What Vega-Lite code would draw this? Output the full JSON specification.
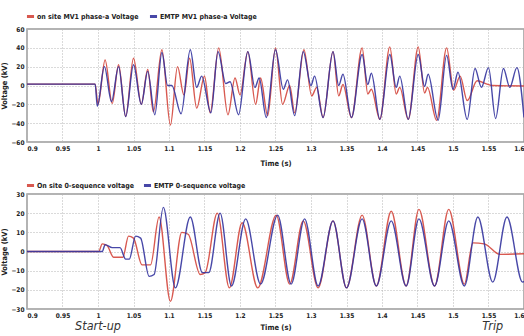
{
  "$schema": "https://vega.github.io/schema/vega-lite/v6.json",
  "background": "white",
  "padding": {"left": 0, "top": 10, "right": 0, "bottom": 0},
  "spacing": 52,
  "bounds": "flush",
  "config": {
    "view": {"stroke": "#9a9a9a", "strokeWidth": 1.5},
    "axis": {
      "labelFont": "DejaVu Sans Condensed, Liberation Sans",
      "labelFontWeight": "bold",
      "labelFontSize": 6.5,
      "labelColor": "#222",
      "titleFont": "DejaVu Sans Condensed, Liberation Sans",
      "titleFontWeight": "bold",
      "titleFontSize": 7.5,
      "titleColor": "#222",
      "ticks": false,
      "domain": false,
      "gridColor": "#b5b5b5",
      "gridDash": [1, 2],
      "gridWidth": 1
    },
    "legend": {
      "orient": "none",
      "direction": "horizontal",
      "gridAlign": "none",
      "title": null,
      "symbolType": "stroke",
      "symbolStrokeWidth": 3,
      "symbolSize": 50,
      "labelFont": "DejaVu Sans Condensed, Liberation Sans",
      "labelFontWeight": "bold",
      "labelFontSize": 7,
      "labelColor": "#222",
      "columnPadding": 2,
      "labelOffset": 1,
      "labelLimit": 200
    }
  },
  "datasets": {
    "top": [
      {"s":"r","t":0.9,"v":1.5},{"s":"r","t":0.996,"v":1.5},{"s":"r","t":1.0,"v":-20},{"s":"r","t":1.01,"v":27},{"s":"r","t":1.02,"v":-19},{"s":"r","t":1.029,"v":22},{"s":"r","t":1.039,"v":-33},{"s":"r","t":1.05,"v":29},{"s":"r","t":1.061,"v":-20},{"s":"r","t":1.07,"v":17},{"s":"r","t":1.078,"v":-28},{"s":"r","t":1.09,"v":38},{"s":"r","t":1.102,"v":-42},{"s":"r","t":1.112,"v":20},{"s":"r","t":1.121,"v":-10},{"s":"r","t":1.129,"v":29},{"s":"r","t":1.139,"v":-24},{"s":"r","t":1.15,"v":10},{"s":"r","t":1.158,"v":-29},{"s":"r","t":1.17,"v":40},{"s":"r","t":1.183,"v":-31},{"s":"r","t":1.193,"v":8},{"s":"r","t":1.2,"v":-10},{"s":"r","t":1.211,"v":36},{"s":"r","t":1.222,"v":-20},{"s":"r","t":1.229,"v":8},{"s":"r","t":1.239,"v":-32},{"s":"r","t":1.25,"v":40},{"s":"r","t":1.26,"v":-20},{"s":"r","t":1.27,"v":0},{"s":"r","t":1.277,"v":-29},{"s":"r","t":1.29,"v":38},{"s":"r","t":1.301,"v":-11},{"s":"r","t":1.308,"v":-2},{"s":"r","t":1.317,"v":-34},{"s":"r","t":1.331,"v":36},{"s":"r","t":1.339,"v":-11},{"s":"r","t":1.345,"v":1},{"s":"r","t":1.357,"v":-34},{"s":"r","t":1.372,"v":40},{"s":"r","t":1.38,"v":-9},{"s":"r","t":1.385,"v":-4},{"s":"r","t":1.397,"v":-36},{"s":"r","t":1.411,"v":41},{"s":"r","t":1.42,"v":-9},{"s":"r","t":1.425,"v":-2},{"s":"r","t":1.437,"v":-36},{"s":"r","t":1.451,"v":41},{"s":"r","t":1.46,"v":-8},{"s":"r","t":1.464,"v":-2},{"s":"r","t":1.477,"v":-37},{"s":"r","t":1.491,"v":40},{"s":"r","t":1.501,"v":-5},{"s":"r","t":1.51,"v":10},{"s":"r","t":1.52,"v":-16},{"s":"r","t":1.534,"v":5},{"s":"r","t":1.548,"v":1.5},{"s":"r","t":1.556,"v":0},{"s":"r","t":1.6,"v":-0.5},
      {"s":"b","t":0.9,"v":1.5},{"s":"b","t":0.996,"v":1.5},{"s":"b","t":0.999,"v":-22},{"s":"b","t":1.009,"v":20},{"s":"b","t":1.019,"v":-17},{"s":"b","t":1.029,"v":20},{"s":"b","t":1.039,"v":-33},{"s":"b","t":1.05,"v":22},{"s":"b","t":1.061,"v":-20},{"s":"b","t":1.07,"v":15},{"s":"b","t":1.08,"v":-31},{"s":"b","t":1.09,"v":35},{"s":"b","t":1.098,"v":0},{"s":"b","t":1.104,"v":0},{"s":"b","t":1.117,"v":-30},{"s":"b","t":1.13,"v":38},{"s":"b","t":1.139,"v":-2},{"s":"b","t":1.146,"v":10},{"s":"b","t":1.159,"v":-29},{"s":"b","t":1.169,"v":36},{"s":"b","t":1.18,"v":2},{"s":"b","t":1.186,"v":4},{"s":"b","t":1.198,"v":-31},{"s":"b","t":1.211,"v":36},{"s":"b","t":1.221,"v":-2},{"s":"b","t":1.227,"v":8},{"s":"b","t":1.237,"v":-34},{"s":"b","t":1.25,"v":38},{"s":"b","t":1.261,"v":-4},{"s":"b","t":1.267,"v":6},{"s":"b","t":1.277,"v":-32},{"s":"b","t":1.289,"v":36},{"s":"b","t":1.3,"v":0},{"s":"b","t":1.305,"v":10},{"s":"b","t":1.317,"v":-34},{"s":"b","t":1.331,"v":36},{"s":"b","t":1.339,"v":0},{"s":"b","t":1.345,"v":12},{"s":"b","t":1.357,"v":-34},{"s":"b","t":1.372,"v":33},{"s":"b","t":1.38,"v":1},{"s":"b","t":1.385,"v":13},{"s":"b","t":1.397,"v":-36},{"s":"b","t":1.411,"v":33},{"s":"b","t":1.42,"v":-2},{"s":"b","t":1.425,"v":10},{"s":"b","t":1.437,"v":-36},{"s":"b","t":1.451,"v":33},{"s":"b","t":1.46,"v":-1},{"s":"b","t":1.465,"v":12},{"s":"b","t":1.479,"v":-37},{"s":"b","t":1.491,"v":32},{"s":"b","t":1.5,"v":-4},{"s":"b","t":1.507,"v":14},{"s":"b","t":1.52,"v":-36},{"s":"b","t":1.531,"v":18},{"s":"b","t":1.54,"v":-2},{"s":"b","t":1.55,"v":19},{"s":"b","t":1.56,"v":-35},{"s":"b","t":1.571,"v":18},{"s":"b","t":1.58,"v":-2},{"s":"b","t":1.59,"v":19},{"s":"b","t":1.6,"v":-34}
    ],
    "bot": [
      {"s":"r","t":0.9,"v":0},{"s":"r","t":1.001,"v":0},{"s":"r","t":1.006,"v":4},{"s":"r","t":1.013,"v":3},{"s":"r","t":1.022,"v":-3},{"s":"r","t":1.035,"v":-3},{"s":"r","t":1.043,"v":8},{"s":"r","t":1.05,"v":7},{"s":"r","t":1.062,"v":-7},{"s":"r","t":1.074,"v":-7},{"s":"r","t":1.086,"v":18},{"s":"r","t":1.102,"v":-26},{"s":"r","t":1.118,"v":10},{"s":"r","t":1.127,"v":9},{"s":"r","t":1.144,"v":-12},{"s":"r","t":1.151,"v":-11},{"s":"r","t":1.168,"v":20},{"s":"r","t":1.185,"v":-19},{"s":"r","t":1.203,"v":15},{"s":"r","t":1.225,"v":-19},{"s":"r","t":1.251,"v":19},{"s":"r","t":1.27,"v":-17},{"s":"r","t":1.289,"v":16},{"s":"r","t":1.31,"v":-19},{"s":"r","t":1.331,"v":16},{"s":"r","t":1.35,"v":-19},{"s":"r","t":1.372,"v":19},{"s":"r","t":1.392,"v":-18},{"s":"r","t":1.413,"v":21},{"s":"r","t":1.434,"v":-18},{"s":"r","t":1.452,"v":22},{"s":"r","t":1.474,"v":-18},{"s":"r","t":1.494,"v":22},{"s":"r","t":1.516,"v":-17},{"s":"r","t":1.528,"v":4.5},{"s":"r","t":1.544,"v":4},{"s":"r","t":1.566,"v":-1.5},{"s":"r","t":1.6,"v":-1.2},
      {"s":"b","t":0.9,"v":0},{"s":"b","t":1.006,"v":0},{"s":"b","t":1.01,"v":3.6},{"s":"b","t":1.02,"v":2},{"s":"b","t":1.031,"v":2},{"s":"b","t":1.039,"v":-4},{"s":"b","t":1.044,"v":-4},{"s":"b","t":1.053,"v":8},{"s":"b","t":1.06,"v":7},{"s":"b","t":1.072,"v":-13},{"s":"b","t":1.079,"v":-12},{"s":"b","t":1.092,"v":23},{"s":"b","t":1.109,"v":-19},{"s":"b","t":1.13,"v":18},{"s":"b","t":1.147,"v":-11},{"s":"b","t":1.156,"v":-11},{"s":"b","t":1.172,"v":20},{"s":"b","t":1.188,"v":-18},{"s":"b","t":1.208,"v":17},{"s":"b","t":1.229,"v":-17},{"s":"b","t":1.253,"v":19},{"s":"b","t":1.272,"v":-17},{"s":"b","t":1.291,"v":17},{"s":"b","t":1.31,"v":-18},{"s":"b","t":1.331,"v":16},{"s":"b","t":1.35,"v":-19},{"s":"b","t":1.372,"v":17},{"s":"b","t":1.392,"v":-18},{"s":"b","t":1.413,"v":16},{"s":"b","t":1.434,"v":-18},{"s":"b","t":1.452,"v":17},{"s":"b","t":1.474,"v":-18},{"s":"b","t":1.494,"v":16},{"s":"b","t":1.516,"v":-18},{"s":"b","t":1.535,"v":18},{"s":"b","t":1.556,"v":-16},{"s":"b","t":1.576,"v":18},{"s":"b","t":1.598,"v":-16},{"s":"b","t":1.6,"v":-15.5}
    ],
    "notes": [
      {"t":1.0,"v":-30,"label":"Start-up"},
      {"t":1.556,"v":-30,"label":"Trip"}
    ]
  },
  "resolve": {"scale": {"color": "independent"}, "legend": {"color": "independent"}},
  "vconcat": [
    {
      "width": 497,
      "height": 113,
      "data": {"name": "top"},
      "mark": {"type": "line", "interpolate": "monotone", "strokeWidth": 1.4, "opacity": 0.9, "clip": true},
      "encoding": {
        "x": {"field": "t", "type": "quantitative", "scale": {"domain": [0.9, 1.6], "nice": false, "zero": false},
              "axis": {"values": [0.9,0.95,1,1.05,1.1,1.15,1.2,1.25,1.3,1.35,1.4,1.45,1.5,1.55,1.6], "format": "~g", "title": "Time (s)", "labelPadding": 3, "titlePadding": 8}},
        "y": {"field": "v", "type": "quantitative", "scale": {"domain": [-60, 60], "nice": false},
              "axis": {"values": [-60,-40,-20,0,20,40,60], "title": "Voltage (kV)", "labelPadding": 3, "titlePadding": 2}},
        "color": {"field": "s", "type": "nominal", "sort": ["r","b"],
                  "scale": {"domain": ["r","b"], "range": ["#d4473d", "#34349e"]},
                  "legend": {"legendX": -2, "legendY": -18, "labelExpr": "datum.value == 'r' ? 'on site MV1 phase-a  Voltage' : 'EMTP MV1 phase-a  Voltage'"}},
        "order": {"field": "s", "sort": "descending"}
      }
    },
    {
      "width": 497,
      "height": 115,
      "encoding": {
        "x": {"field": "t", "type": "quantitative", "scale": {"domain": [0.9, 1.6], "nice": false, "zero": false},
              "axis": {"values": [0.9,0.95,1,1.05,1.1,1.15,1.2,1.25,1.3,1.35,1.4,1.45,1.5,1.55,1.6], "format": "~g", "title": "Time (s)", "labelPadding": 3, "titlePadding": 5}},
        "y": {"field": "v", "type": "quantitative", "scale": {"domain": [-30, 30], "nice": false},
              "axis": {"values": [-30,-20,-10,0,10,20,30], "title": "Voltage (kV)", "labelPadding": 3, "titlePadding": 2}}
      },
      "layer": [
        {
          "data": {"name": "bot"},
          "mark": {"type": "line", "interpolate": "monotone", "strokeWidth": 1.4, "opacity": 0.9, "clip": true},
          "encoding": {
            "color": {"field": "s", "type": "nominal", "sort": ["r","b"],
                      "scale": {"domain": ["r","b"], "range": ["#d4473d", "#34349e"]},
                      "legend": {"legendX": -2, "legendY": -14, "labelExpr": "datum.value == 'r' ? 'On site 0-sequence voltage' : 'EMTP 0-sequence voltage'"}}
          }
        },
        {
          "data": {"name": "notes"},
          "mark": {"type": "text", "font": "DejaVu Sans Condensed, Liberation Sans", "fontStyle": "italic", "fontSize": 12.5, "baseline": "top", "align": "center", "dy": 11, "color": "#333"},
          "encoding": {
            "text": {"field": "label"}
          }
        }
      ]
    }
  ]
}
